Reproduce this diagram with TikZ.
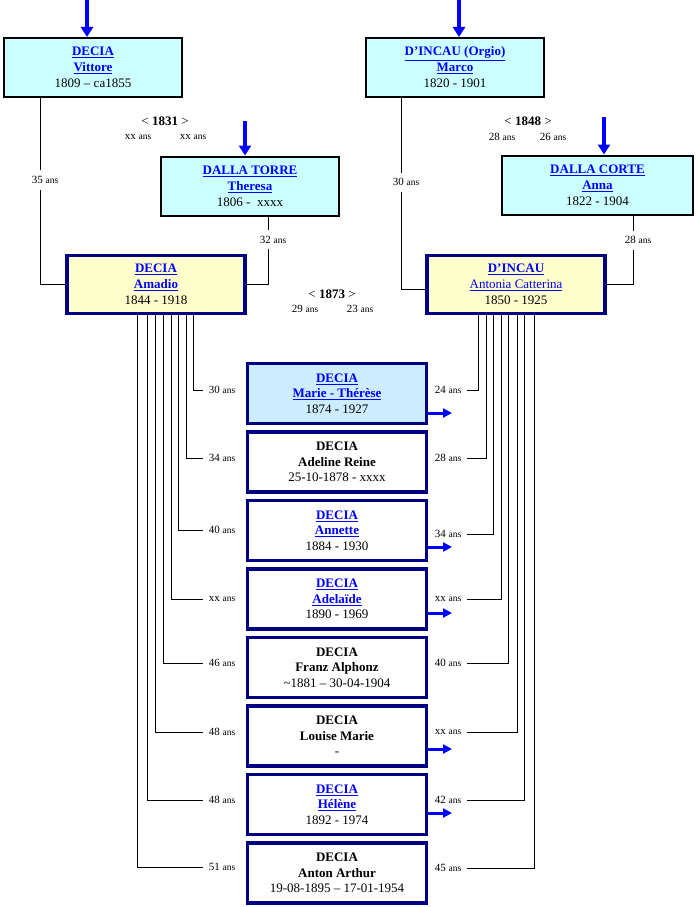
\documentclass[tikz,border=0pt]{standalone}
\usepackage{fontspec}
\setmainfont{Liberation Serif}
\usetikzlibrary{arrows.meta}
\definecolor{linkblue}{HTML}{0000FF}
\definecolor{arrowblue}{HTML}{0000FF}
\definecolor{boxnavy}{HTML}{000080}
\definecolor{parentcyan}{HTML}{CCFFFF}
\definecolor{coupleyellow}{HTML}{FFFFCC}
\definecolor{childblue}{HTML}{CCECFF}
\newcommand{\namelink}[1]{\textcolor{linkblue}{\underline{#1}}}
\newcommand{\linkname}[1]{\textbf{\namelink{#1}}}
\newcommand{\plainname}[1]{\textbf{#1}}
\newcommand{\agelabel}[1]{#1 {\fontsize{9.5}{11}\selectfont ans}}
\tikzset{
	family tree/.is family,
	family tree/.cd,
	ancestor/.style = {
		draw = black,
		line width = 2pt,
		fill = parentcyan,
		minimum width = 178pt,
		minimum height = 59pt,
		inner sep = 0pt,
		align = center,
		font = \fontsize{13}{16}\selectfont,
	},
	couple/.style = {
		family tree/ancestor,
		draw = boxnavy,
		line width = 3.3pt,
		fill = coupleyellow,
		minimum height = 57.7pt,
	},
	child/.style = {
		family tree/couple,
		fill = white,
		minimum width = 178.7pt,
		minimum height = 60pt,
		font = \fontsize{13}{15.5}\selectfont,
	},
	descent/.style = {
		draw = black,
		line width = 0.9pt,
	},
	age/.style = {
		inner xsep = 6pt,
		inner ysep = 1pt,
		outer sep = 0pt,
		font = \fontsize{11}{13}\selectfont,
	},
	age on line/.style = {
		family tree/age,
		fill = white,
		inner xsep = 1pt,
		inner ysep = 6pt,
		xshift = 5pt,
	},
	wedding/.style = {
		inner sep = 0pt,
		font = \fontsize{13}{16}\selectfont,
	},
	arrow in/.style = {
		draw = arrowblue,
		line width = 3.3pt,
		-{Triangle[width = 12pt, length = 10pt]},
	},
	arrow out/.style = {
		draw = arrowblue,
		line width = 3pt,
		-{Triangle[width = 9pt, length = 9pt]},
	},
}

\begin{document}
\begin{tikzpicture}[x = 1pt, y = -1pt]
	\path[use as bounding box] (0, 0) rectangle (697, 907);

	% grandparents
	\node[family tree/ancestor] (vittore) at (93, 67.5) {\linkname{DECIA}\\\linkname{Vittore}\\1809 – ca1855};
	\node[family tree/ancestor] (theresa) at (250, 186) {\linkname{DALLA TORRE}\\\linkname{Theresa}\\1806 - \ xxxx};
	\node[family tree/ancestor] (marco) at (455, 67.5) {\linkname{D’INCAU (Orgio)}\\\linkname{Marco}\\1820 - 1901};
	\node[family tree/ancestor, minimum width = 191pt] (anna) at (597.5, 185) {\linkname{DALLA CORTE}\\\linkname{Anna}\\1822 - 1904};

	% parents
	\node[family tree/couple] (amadio) at (156, 284.5) {\linkname{DECIA}\\\linkname{Amadio}\\1844 - 1918};
	\node[family tree/couple] (antonia) at (516, 284.5) {\linkname{D’INCAU}\\\namelink{Antonia Catterina}\\1850 - 1925};

	\foreach \x/\y/\target in {87/0/vittore, 245/121/theresa, 459/0/marco, 604/117/anna} {
		\coordinate (\target in) at (\x, \y);
		\draw[family tree/arrow in] (\target in) -- (\target in |- \target.north);
	}

	\coordinate (vittore drop) at (40, 0);
	\coordinate (theresa drop) at (268, 0);
	\coordinate (marco drop) at (401, 0);
	\coordinate (anna drop) at (633, 0);
	\draw[family tree/descent] (vittore.south -| vittore drop) |- (amadio.west) node[family tree/age on line, pos = 0.22] {\agelabel{35}};
	\draw[family tree/descent] (theresa.south -| theresa drop) |- (amadio.east) node[family tree/age on line, pos = 0.17] {\agelabel{32}};
	\draw[family tree/descent] (marco.south -| marco drop) |- ([yshift = -5pt]antonia.west) node[family tree/age on line, pos = 0.22] {\agelabel{30}};
	\draw[family tree/descent] (anna.south -| anna drop) |- (antonia.east) node[family tree/age on line, pos = 0.18] {\agelabel{28}};

	\node[family tree/wedding] (wedding 1831) at (165, 121) {< \textbf{1831} >};
	\node[family tree/age, inner xsep = 0pt] (groom 1831) at (138, 137) {\agelabel{xx}};
	\node[family tree/age, inner xsep = 0pt] (bride 1831) at (193, 137) {\agelabel{xx}};
	\node[family tree/wedding] (wedding 1848) at (528, 121) {< \textbf{1848} >};
	\node[family tree/age, inner xsep = 0pt] (groom 1848) at (502, 137) {\agelabel{28}};
	\node[family tree/age, inner xsep = 0pt] (bride 1848) at (553, 137) {\agelabel{26}};
	\node[family tree/wedding] (wedding 1873) at (332, 294) {< \textbf{1873} >};
	\node[family tree/age, inner xsep = 0pt] (groom 1873) at (305, 309) {\agelabel{29}};
	\node[family tree/age, inner xsep = 0pt] (bride 1873) at (360, 309) {\agelabel{23}};

	% children
	\foreach \fmt/\first/\dates/\boxfill/\lx/\ly/\lage/\rx/\ry/\rage/\outy [count = \i] in {
		\linkname/Marie - Thérèse/1874 - 1927/childblue/193/390/30/478/390/24/413,
		\plainname/Adeline Reine/25-10-1878 - xxxx/white/186/458/34/486/458/28/0,
		\linkname/Annette/1884 - 1930/white/178/530/40/493/534/34/547,
		\linkname/Adelaïde/1890 - 1969/white/171/599/xx/501/599/xx/613,
		\plainname/Franz Alphonz/\textasciitilde1881 – 30-04-1904/white/163/663/46/508/663/40/0,
		\plainname/Louise Marie/-/white/155/732/48/517/732/xx/749,
		\linkname/Hélène/1892 - 1974/white/147/800/48/524/800/42/813,
		\plainname/Anton Arthur/19-08-1895 – 17-01-1954/white/137/867/51/534/868/45/0
	} {
		\pgfmathsetmacro{\cy}{393.5 + (\i - 1) * 68.5}
		\node[family tree/child, fill = \boxfill] (child \i) at (337, \cy) {\fmt{DECIA}\\\fmt{\first}\\\dates};
		\node[family tree/age] (age father \i) at (222, \ly) {\agelabel{\lage}};
		\node[family tree/age] (age mother \i) at (448, \ry) {\agelabel{\rage}};
		\coordinate (father drop \i) at (\lx, 0);
		\coordinate (mother drop \i) at (\rx, 0);
		\draw[family tree/descent] (amadio.south -| father drop \i) |- (age father \i.west);
		\draw[family tree/descent] (antonia.south -| mother drop \i) |- (age mother \i.east);
		\ifnum\outy > 0
			\coordinate (grandchildren \i) at (452, \outy);
			\draw[family tree/arrow out] (child \i.east |- grandchildren \i) -- (grandchildren \i);
		\fi
	}
\end{tikzpicture}
\end{document}
